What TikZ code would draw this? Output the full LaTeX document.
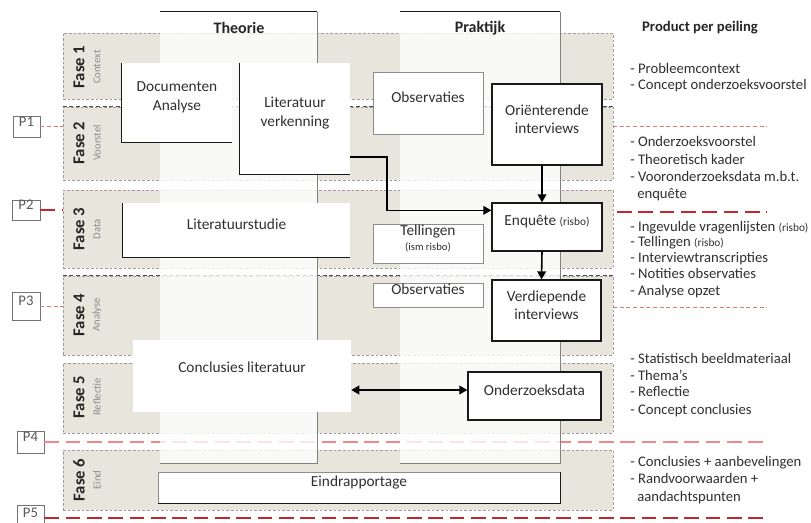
\documentclass[tikz,border=0pt]{standalone}
\usepackage{fontspec}
\setmainfont{Carlito}
\usetikzlibrary{arrows.meta,calc,fit}

\definecolor{bandfill}{HTML}{E8E5DC}
\definecolor{bandline}{HTML}{9C9C9C}
\definecolor{txt}{HTML}{303030}
\definecolor{pthincol}{HTML}{D8787A}
\definecolor{pdarkcol}{HTML}{C0282D}
\definecolor{plightcol}{HTML}{EE8888}

\begin{document}
\begin{tikzpicture}[x=0.75pt,y=-0.75pt,
  band/.style={fill=bandfill, draw=bandline, dash pattern=on 2pt off 1.5pt, line width=0.5pt, inner sep=0pt},
  darkdash/.style={draw=black!70, dash pattern=on 3pt off 2pt, line width=0.6pt},
  panel/.style={fill=white, fill opacity=0.78, inner sep=0pt},
  panelline/.style={draw=black!50, line width=0.7pt},
  head/.style={font=\bfseries\fontsize{12}{14}\selectfont, text=black!85},
  wbox/.style={fill=white, inner sep=0pt, align=center, text=txt, font=\fontsize{11.5}{14}\selectfont},
  edge/.style={draw=black!90, line width=1pt},
  grayedge/.style={draw=black!45, line width=0.6pt},
  fase/.style={rotate=90, font=\bfseries\fontsize{12.5}{14}\selectfont, text=black!85, inner sep=0pt},
  fasesub/.style={rotate=90, font=\fontsize{8}{9}\selectfont, text=black!45, inner sep=0pt},
  item/.style={anchor=base west, inner sep=0pt, text=txt, font=\fontsize{11}{13}\selectfont},
  pbox/.style={draw=black!55, fill=white, line width=0.6pt, inner sep=0pt, text=black!65, font=\fontsize{11}{13}\selectfont},
  pthin/.style={draw=pthincol, line width=0.5pt, dash pattern=on 3pt off 2pt},
  pthick/.style={draw=pdarkcol, line width=2pt, dash pattern=on 11pt off 5pt},
  plight/.style={draw=plightcol, line width=1.7pt, dash pattern=on 11pt off 5pt},
  arr/.style={-{Triangle[length=6pt,width=6.5pt]}, line width=1.2pt},
  darr/.style={{Triangle[length=6pt,width=6.5pt]}-{Triangle[length=6pt,width=6.5pt]}, line width=1.3pt}
]
\useasboundingbox (0,0) rectangle (811,523);
\clip (0,0) rectangle (811,523);
\fill[white] (0,0) rectangle (811,523);

% phase bands
\node[band, fit={(63,33) (613,99)}] (f1) {};
\node[band, fit={(63,107) (613,180)}] (f2) {};
\node[band, fit={(63,190) (613,268)}] (f3) {};
\node[band, fit={(63,276) (613,355)}] (f4) {};
\node[band, fit={(63,363) (613,433)}] (f5) {};
\node[band, fit={(63,450) (613,510)}] (f6) {};
\draw[darkdash] (f2.north west) -- (f2.north east);
\draw[darkdash] (f4.north west) -- (f4.north east);

% phase labels
\node[fase] (l1) at (79,67) {Fase 1};
\node[fasesub] (s1) at (97,67) {Context};
\node[fase] (l2) at (79,143) {Fase 2};
\node[fasesub] (s2) at (97,143) {Voorstel};
\node[fase] (l3) at (79,229) {Fase 3};
\node[fasesub] (s3) at (97,229) {Data};
\node[fase] (l4) at (79,315) {Fase 4};
\node[fasesub] (s4) at (97,315) {Analyse};
\node[fase] (l5) at (79,397) {Fase 5};
\node[fasesub] (s5) at (97,397) {Reflectie};
\node[fase] (l6) at (79,480) {Fase 6};
\node[fasesub] (s6) at (97,480) {Eind};

% peiling markers
\node[pbox, fit={(13,116) (40,137)}] (p1) {P1};
\node[pbox, fit={(12,200) (40,220)}] (p2) {P2};
\node[pbox, fit={(12,292) (40,320)}] (p3) {P3};
\node[pbox, fit={(17,431) (44,453)}] (p4) {P4};
\node[pbox, fit={(17,505) (44,531)}] (p5) {P5};

% P4 runs underneath the columns
\coordinate (p4end) at (767,442);
\draw[plight] (p4.east) -- (p4end);

% columns
\node[panel, fit={(160,12) (317,463)}] (theo) {};
\node[panel, fit={(400,12) (560,463)}] (prak) {};
\draw[panelline] (theo.north east) -- (theo.south east) -- (theo.south west);
\draw[panelline] (prak.north east) -- (prak.south east) -- (prak.south west);
\draw[edge] (theo.north west) -- (theo.north east);
\draw[edge] (prak.north west) -- (prak.north east);
\node[head] (theoh) at (239,28) {Theorie};
\node[head] (prakh) at (480,28) {Praktijk};

% activity boxes
\node[wbox, fit={(122,63) (232,142)}] (doc) {Documenten\\Analyse};
\draw[edge] (doc.north west) -- (doc.south west) -- (doc.south east);
\node[wbox, fit={(240,63) (350,174)}] (litv) {Literatuur\\verkenning};
\draw[edge] (litv.north west) -- (litv.south west) -- (litv.south east);
\node[wbox, grayedge, fit={(373,72) (483,134)}] (obs1) {Observaties};
\node[wbox, edge, fit={(492,84) (602,165)}] (ori) {Oriënterende\\interviews};
\node[wbox, fit={(123,203) (350,257)}] (lits) {Literatuurstudie};
\draw[edge] (lits.north west) -- (lits.south west) -- (lits.south east);
\node[wbox, grayedge, fit={(373,224) (483,263)}] (tel) {Tellingen\\[-3pt]{\fontsize{8}{9}\selectfont(ism risbo)}};
\node[wbox, edge, fit={(492,203) (602,251)}] (enq) {Enquête {\fontsize{8.5}{9}\selectfont(risbo)}};
\node[wbox, grayedge, fit={(373,283) (483,307)}] (obs2) {Observaties};
\node[wbox, edge, fit={(492,280) (601,341)}] (ver) {Verdiepende\\interviews};
\node[wbox, fit={(133,340) (351,412)}] (concl) {};
\node[text=txt, font=\fontsize{11.5}{14}\selectfont] (conclt) at ($(concl.center)+(0,-9)$) {Conclusies literatuur};
\node[wbox, edge, fit={(468,372) (601,420)}] (ond) {Onderzoeksdata};
\node[wbox, grayedge, fit={(158,472) (560,503)}] (eind) {Eindrapportage};
\draw[edge] (eind.south west) -- (eind.south east) -- (eind.north east);

% connectors
\draw[arr] ($(litv.south east)+(0,-17)$) -- ++(37,0) |- ($(enq.north west)+(0,8)$);
\draw[arr] ($(ori.south)+(-5,0)$) -- ($(enq.north)+(-5,0)$);
\draw[arr] ($(enq.south)+(-5,0)$) -- ($(ver.north)+(-5,0)$);
\coordinate (cl) at ($(concl.east)+(0,14)$);
\draw[darr] (cl) -- (cl -| ond.west);

% peiling lines
\draw[pthin] (p1.east) -- (p1.east -| f2.west);
\draw[pthick] (p2.east) -- (p2.east -| f3.west);
\draw[pthin] (p3.east) -- (p3.east -| f4.west);
\coordinate (r1a) at (613,126);
\coordinate (r1b) at (767,126);
\draw[pthin] (r1a) -- (r1b);
\coordinate (r2a) at (617,212);
\coordinate (r2b) at (767,212);
\draw[pthick] (r2a) -- (r2b);
\coordinate (r3a) at (613,307);
\coordinate (r3b) at (767,307);
\draw[pthin] (r3a) -- (r3b);
\coordinate (p5end) at (767,518);
\draw[pthick] (p5.east) -- (p5end);

% products per peiling
\node[head, font=\bfseries\fontsize{11}{13}\selectfont] (prod) at (700,28) {Product per peiling};
\node[item] (i1) at (630,74) {- Probleemcontext};
\node[item] (i2) at (630,90) {- Concept onderzoeksvoorstel};
\node[item] (i3) at (630,147) {- Onderzoeksvoorstel};
\node[item] (i4) at (630,165) {- Theoretisch kader};
\node[item] (i5) at (630,182) {- Vooronderzoeksdata m.b.t.};
\node[item] (i6) at (637,199) {enquête};
\node[item] (i7) at (630,232) {- Ingevulde vragenlijsten {\fontsize{8.5}{9}\selectfont(risbo)}};
\node[item] (i8) at (630,247) {- Tellingen {\fontsize{8.5}{9}\selectfont(risbo)}};
\node[item] (i9) at (630,263) {- Interviewtranscripties};
\node[item] (i10) at (630,279) {- Notities observaties};
\node[item] (i11) at (630,296) {- Analyse opzet};
\node[item] (i12) at (630,364) {- Statistisch beeldmateriaal};
\node[item] (i13) at (630,381) {- Thema's};
\node[item] (i14) at (630,397) {- Reflectie};
\node[item] (i15) at (630,415) {- Concept conclusies};
\node[item] (i16) at (630,467) {- Conclusies + aanbevelingen};
\node[item] (i17) at (630,484) {- Randvoorwaarden +};
\node[item] (i18) at (637,502) {aandachtspunten};
\end{tikzpicture}
\end{document}
